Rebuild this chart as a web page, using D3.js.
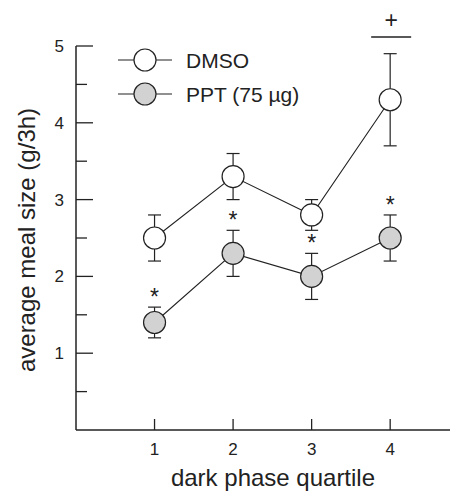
<!DOCTYPE html>
<html>
<head>
<meta charset="utf-8">
<script src="https://cdn.jsdelivr.net/npm/d3@7"></script>
<style>
  body { margin: 0; background: #fff; }
  svg { display: block; font-family: "Liberation Sans", Arial, sans-serif; }
</style>
</head>
<body>
<div id="chart"></div>
<script>
const quartiles = [1, 2, 3, 4];
const dmsoMean = [2.5, 3.3, 2.8, 4.3];
const dmsoErr = [0.3, 0.3, 0.2, 0.6];
const pptMean = [1.4, 2.3, 2.0, 2.5];
const pptErr = [0.2, 0.3, 0.3, 0.3];
const pptStars = [true, true, true, true];
const dmsoPlus = [false, false, false, true];
const yTicks = [1, 2, 3, 4, 5];
const yMinor = [0.5, 1.5, 2.5, 3.5, 4.5];

const width = 450, height = 493;
const svg = d3.select('#chart').append('svg')
  .attr('width', width).attr('height', height);

const x = d3.scaleLinear().domain([0, 4.8]).range([76, 453]);
const y = d3.scaleLinear().domain([0, 5]).range([430, 46]);

// axes
svg.append('line').attr('x1', x(0)).attr('x2', x(4.8)).attr('y1', y(0)).attr('y2', y(0))
  .attr('stroke', '#222').attr('stroke-width', 1.5);
svg.append('line').attr('x1', x(0)).attr('x2', x(0)).attr('y1', y(0)).attr('y2', y(5))
  .attr('stroke', '#222').attr('stroke-width', 1.5);

svg.selectAll('.ymaj').data(yTicks).enter().append('line')
  .attr('x1', x(0)).attr('x2', x(0) + 17)
  .attr('y1', d => y(d)).attr('y2', d => y(d))
  .attr('stroke', '#222').attr('stroke-width', 1.3);
svg.selectAll('.ymin').data(yMinor).enter().append('line')
  .attr('x1', x(0)).attr('x2', x(0) + 11)
  .attr('y1', d => y(d)).attr('y2', d => y(d))
  .attr('stroke', '#222').attr('stroke-width', 1.3);
svg.selectAll('.ylab').data(yTicks).enter().append('text')
  .attr('x', 64).attr('y', d => y(d)).attr('dy', '0.35em')
  .attr('text-anchor', 'end').attr('font-size', 17).attr('fill', '#222')
  .text(d => d);

svg.selectAll('.xt').data(quartiles).enter().append('line')
  .attr('x1', d => x(d)).attr('x2', d => x(d))
  .attr('y1', y(0)).attr('y2', y(0) - 11)
  .attr('stroke', '#222').attr('stroke-width', 1.3);
svg.selectAll('.xlab').data(quartiles).enter().append('text')
  .attr('x', d => x(d)).attr('y', 455)
  .attr('text-anchor', 'middle').attr('font-size', 17).attr('fill', '#222')
  .text(d => d);

svg.append('text').attr('x', 273).attr('y', 486)
  .attr('text-anchor', 'middle').attr('font-size', 24).attr('fill', '#222')
  .text('dark phase quartile');
svg.append('text')
  .attr('transform', `translate(35,240) rotate(-90)`)
  .attr('text-anchor', 'middle').attr('font-size', 24).attr('fill', '#222')
  .text('average meal size (g/3h)');

// series
const series = [
  { name: 'DMSO', mean: dmsoMean, err: dmsoErr, fill: '#fff' },
  { name: 'PPT (75 \u00b5g)', mean: pptMean, err: pptErr, fill: '#d2d2d2' }
];
const line = d3.line().x((d, i) => x(quartiles[i])).y(d => y(d));

series.forEach(s => {
  const g = svg.append('g');
  g.append('path').attr('d', line(s.mean)).attr('fill', 'none')
    .attr('stroke', '#222').attr('stroke-width', 1.1);
  quartiles.forEach((q, i) => {
    const lo = s.mean[i] - s.err[i], hi = s.mean[i] + s.err[i];
    g.append('line').attr('x1', x(q)).attr('x2', x(q)).attr('y1', y(lo)).attr('y2', y(hi))
      .attr('stroke', '#222').attr('stroke-width', 1.2);
    [lo, hi].forEach(v => g.append('line')
      .attr('x1', x(q) - 6.5).attr('x2', x(q) + 6.5).attr('y1', y(v)).attr('y2', y(v))
      .attr('stroke', '#222').attr('stroke-width', 1.2));
  });
  g.selectAll('circle').data(s.mean).enter().append('circle')
    .attr('cx', (d, i) => x(quartiles[i])).attr('cy', d => y(d)).attr('r', 11)
    .attr('fill', s.fill).attr('stroke', '#222').attr('stroke-width', 1.2);
});

// significance marks
quartiles.forEach((q, i) => {
  if (pptStars[i]) {
    svg.append('text').attr('x', x(q)).attr('y', y(pptMean[i] + pptErr[i]) - 2)
      .attr('text-anchor', 'middle').attr('font-size', 23).attr('fill', '#222').text('*');
  }
  if (dmsoPlus[i]) {
    svg.append('line').attr('x1', x(q) - 19).attr('x2', x(q) + 21).attr('y1', 37).attr('y2', 37)
      .attr('stroke', '#222').attr('stroke-width', 1.3);
    svg.append('text').attr('x', x(q) + 1).attr('y', 28)
      .attr('text-anchor', 'middle').attr('font-size', 23).attr('fill', '#222').text('+');
  }
});

// legend
series.forEach((s, i) => {
  const ly = 60 + i * 34;
  svg.append('line').attr('x1', 118).attr('x2', 172).attr('y1', ly).attr('y2', ly)
    .attr('stroke', '#222').attr('stroke-width', 1.1);
  svg.append('circle').attr('cx', 145).attr('cy', ly).attr('r', 11)
    .attr('fill', s.fill).attr('stroke', '#222').attr('stroke-width', 1.2);
  svg.append('text').attr('x', 186).attr('y', ly).attr('dy', '0.36em')
    .attr('font-size', 21).attr('fill', '#222').text(s.name);
});
</script>
</body>
</html>
